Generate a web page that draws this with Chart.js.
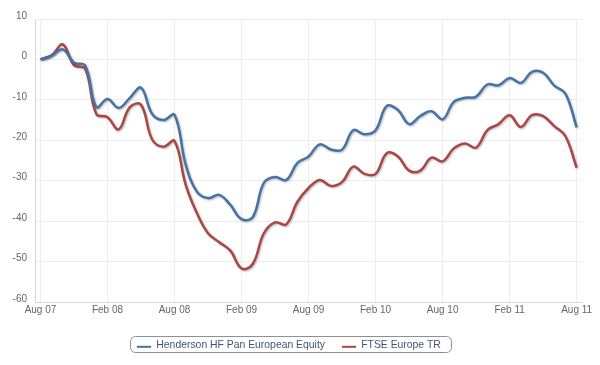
<!DOCTYPE html>
<html>
<head>
<meta charset="utf-8">
<script src="https://cdn.jsdelivr.net/npm/chart.js@4"></script>
<style>
  html, body { margin: 0; padding: 0; background: #fff; }
  #wrap { width: 600px; height: 365px; }
</style>
</head>
<body>
<div id="wrap"><canvas id="chart"></canvas></div>
<script>
// Monthly points, Aug 07 (index 0) to Aug 11 (index 48)
const tickMonths = [0, 6, 12, 18, 24, 30, 36, 42, 48];
const tickLabels = ['Aug 07', 'Feb 08', 'Aug 08', 'Feb 09', 'Aug 09', 'Feb 10', 'Aug 10', 'Feb 11', 'Aug 11'];
const seriesNames = ['Henderson HF Pan European Equity', 'FTSE Europe TR'];
const seriesColors = ['#4572A7', '#AA4643'];

const fundValues = [0, 1.0, 2.5, -0.8, -1.5, -11.8, -9.8, -12, -9.5, -7, -13.5, -15, -13.7,
  -26, -32.7, -34.3, -33.5, -36, -39.5, -39, -30.5, -29.1, -29.8, -25.6, -24, -21,
  -22.3, -22.3, -17.5, -18.5, -17.5, -11.5, -12.5, -16, -14, -12.8, -14.8, -10.5,
  -9.5, -9.2, -6.2, -6.4, -4.6, -5.8, -3.1, -3.3, -6.5, -8.5, -16.8];
const indexValues = [0, 1.0, 3.7, -1.4, -2.3, -13.5, -14.3, -17.3, -11.8, -11.2, -19.8, -21.6, -20.2,
  -31, -38, -43, -45.2, -47.3, -51.7, -50.6, -43, -40.3, -40.8, -35.2, -31.8, -29.8,
  -31.3, -30.3, -26.5, -28.3, -28.3, -23.2, -24, -27.5, -27.5, -24.3, -25.2, -22,
  -20.8, -21.8, -17.5, -16, -13.8, -16.7, -13.8, -14, -16.5, -19, -26.8];

const toPoints = arr => arr.map((v, i) => ({ x: i, y: v }));

// legend marker: short line sitting low, like an underscore
function legendMark(color) {
  const c = document.createElement('canvas');
  c.width = 14;
  c.height = 12;
  const g = c.getContext('2d');
  g.fillStyle = color;
  g.fillRect(0, 7, 14, 2);
  return c;
}

// soft drop shadow under the lines
const lineShadow = {
  id: 'lineShadow',
  beforeDatasetsDraw(chart) {
    const ctx = chart.ctx;
    ctx.save();
    ctx.shadowColor = 'rgba(0,0,0,0.28)';
    ctx.shadowOffsetX = 1;
    ctx.shadowOffsetY = 1;
    ctx.shadowBlur = 2;
  },
  afterDatasetsDraw(chart) {
    chart.ctx.restore();
  }
};

// nudge the legend a little, then draw a rounded frame round it
const legendShift = { dx: -2, dy: 0 };
const legendFrame = {
  id: 'legendFrame',
  afterUpdate(chart) {
    const lg = chart.legend;
    if (!lg || !lg.legendHitBoxes) return;
    lg.left += legendShift.dx;
    lg.right += legendShift.dx;
    lg.top += legendShift.dy;
    lg.bottom += legendShift.dy;
    lg.legendHitBoxes.forEach(b => {
      b.left += legendShift.dx;
      b.top += legendShift.dy;
    });
  },
  afterDraw(chart) {
    const boxes = chart.legend && chart.legend.legendHitBoxes;
    if (!boxes || !boxes.length) return;
    const left = Math.min(...boxes.map(b => b.left)) - 7;
    const right = Math.max(...boxes.map(b => b.left + b.width)) + 10;
    const top = Math.min(...boxes.map(b => b.top)) - 4;
    const bottom = Math.max(...boxes.map(b => b.top + b.height)) + 2;
    const ctx = chart.ctx;
    ctx.save();
    ctx.strokeStyle = '#909090';
    ctx.lineWidth = 1;
    ctx.beginPath();
    ctx.roundRect(Math.round(left) + 0.5, Math.round(top) + 0.5, Math.round(right - left), Math.round(bottom - top), 5);
    ctx.stroke();
    ctx.restore();
  }
};

new Chart(document.getElementById('chart'), {
  type: 'line',
  data: {
    datasets: [
      { label: seriesNames[0], data: toPoints(fundValues), borderColor: seriesColors[0], backgroundColor: seriesColors[0], borderWidth: 2.5, pointStyle: legendMark(seriesColors[0]) },
      { label: seriesNames[1], data: toPoints(indexValues), borderColor: seriesColors[1], backgroundColor: seriesColors[1], borderWidth: 2.5, pointStyle: legendMark(seriesColors[1]) }
    ]
  },
  options: {
    responsive: true,
    maintainAspectRatio: false,
    animation: false,
    layout: { padding: { left: 0, right: 18, top: 19, bottom: 5 } },
    elements: {
      line: { tension: 0.4 },
      point: { radius: 0, hoverRadius: 0 }
    },
    scales: {
      x: {
        type: 'linear',
        min: -0.49,
        max: 48.48,
        afterBuildTicks: s => { s.ticks = tickMonths.map(v => ({ value: v })); },
        afterFit: s => { s.height = 20.6; },
        grid: { color: '#eeeeee', drawTicks: false },
        border: { color: '#d8d8d8' },
        ticks: {
          autoSkip: false,
          maxRotation: 0,
          padding: 2,
          color: '#666',
          font: { family: 'Liberation Sans', size: 10 },
          callback: v => tickLabels[tickMonths.indexOf(v)] || ''
        }
      },
      y: {
        min: -60,
        max: 10,
        afterFit: s => { s.width = 35; },
        grid: { color: '#eeeeee', drawTicks: false },
        border: { color: '#d8d8d8' },
        ticks: {
          stepSize: 10,
          padding: 8,
          labelOffset: -3,
          color: '#666',
          font: { family: 'Liberation Sans', size: 10 }
        }
      }
    },
    plugins: {
      tooltip: { enabled: false },
      legend: {
        position: 'bottom',
        labels: {
          usePointStyle: true,
          pointStyleWidth: 14,
          padding: 17,
          color: '#3E576F',
          font: { family: 'Liberation Sans', size: 10.4 }
        }
      }
    }
  },
  plugins: [lineShadow, legendFrame]
});
</script>
</body>
</html>
